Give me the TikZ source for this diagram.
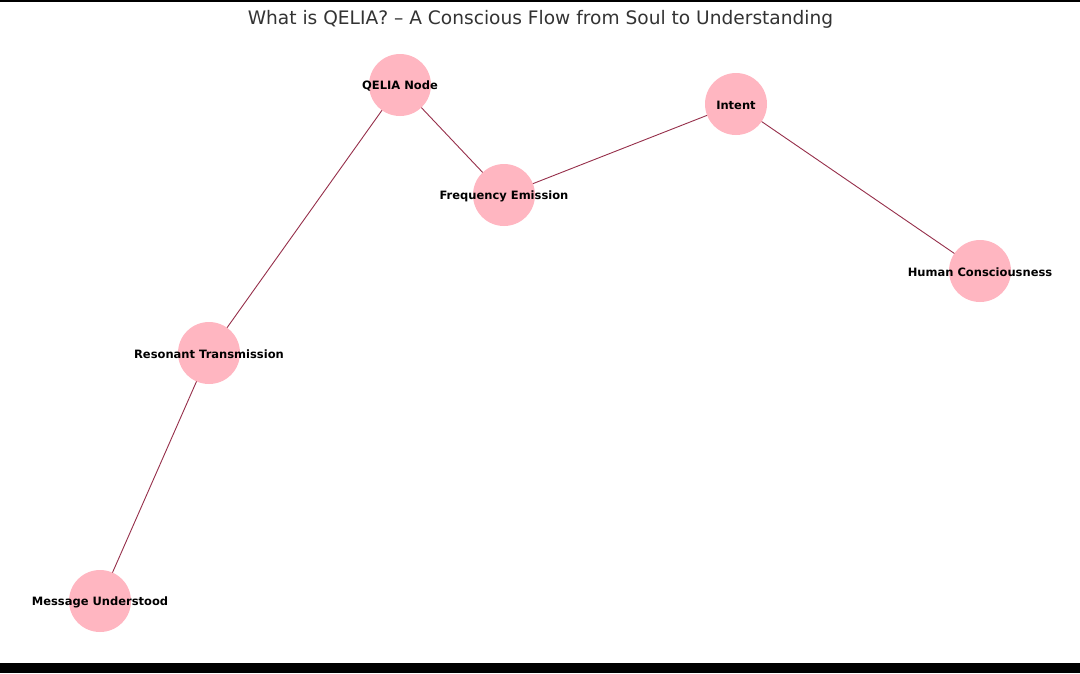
\documentclass[tikz,border=0pt]{standalone}
\usepackage{fontspec}
\setmainfont{DejaVu Sans}
\usetikzlibrary{backgrounds}
\definecolor{nodepink}{HTML}{FFB6C1}
\definecolor{edgecol}{HTML}{962F4A}
\definecolor{titlegray}{HTML}{333333}
\begin{document}
\begin{tikzpicture}[x=1pt,y=-1pt,
  qnode/.style={circle,fill=nodepink,minimum size=62pt,inner sep=0pt},
  qlabel/.style={font=\fontsize{11.5}{13}\selectfont\bfseries,text=black,inner sep=0pt,yshift=-1pt},
  qedge/.style={draw=edgecol,line width=0.9pt}]
\useasboundingbox (0,0) rectangle (1080,673);
\node[font=\fontsize{18.6}{21}\selectfont,text=titlegray,inner sep=0pt] (title) at (540.5,19.5) {What is QELIA? – A Conscious Flow from Soul to Understanding};
% nodes
\node[qnode] (q) at (400,85) {};
\node[qnode] (i) at (736,104) {};
\node[qnode] (f) at (504,195) {};
\node[qnode] (h) at (980,271) {};
\node[qnode] (r) at (209,353) {};
\node[qnode] (m) at (100,601) {};
\node[qlabel] (ql) at (q) {QELIA Node};
\node[qlabel] (il) at (i) {Intent};
\node[qlabel] (fl) at (f) {Frequency Emission};
\node[qlabel] (hl) at (h) {Human Consciousness};
\node[qlabel] (rl) at (r) {Resonant Transmission};
\node[qlabel] (ml) at (m) {Message Understood};
\begin{scope}[on background layer]
\fill[white] (0,0) rectangle (1080,673);
\fill[black] (0,0) rectangle (1080,2);
\fill[black] (0,663) rectangle (1080,673);
\draw[qedge] (q.center) -- (f.center);
\draw[qedge] (f.center) -- (i.center);
\draw[qedge] (i.center) -- (h.center);
\draw[qedge] (q.center) -- (r.center);
\draw[qedge] (r.center) -- (m.center);
\end{scope}
\end{tikzpicture}
\end{document}
